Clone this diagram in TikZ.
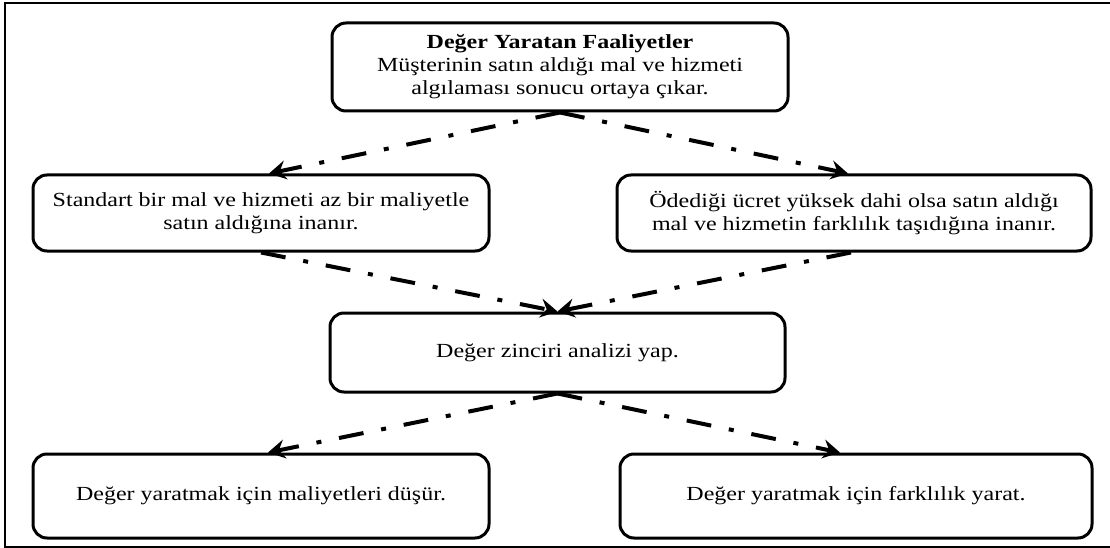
\documentclass[tikz,border=0pt]{standalone}
\usepackage{fontspec}
\setmainfont{Liberation Serif}[FakeStretch=1.2]
\usetikzlibrary{arrows.meta}
\tikzset{
  box/.style={draw, line width=3pt, rounded corners=14pt, align=center,
    font=\fontsize{20}{23}\selectfont, inner sep=0pt},
  flow/.style={line width=4pt, dash pattern=on 25pt off 18pt on 5pt off 18pt,
    -{Stealth[length=17pt,width=19pt,inset=6pt]}},
}
\begin{document}
\begin{tikzpicture}[x=1pt,y=-1pt]
\useasboundingbox (0,0) rectangle (1110,548);
\draw[line width=2pt] (1112,3) -- (5,3) -- (5,547) -- (1112,547);

\node[box, minimum width=456pt, minimum height=88pt] (top) at (560,67)
  {\textbf{Değer Yaratan Faaliyetler}\\Müşterinin satın aldığı mal ve hizmeti\\algılaması sonucu ortaya çıkar.};
\node[box, minimum width=456pt, minimum height=76pt] (left) at (261,213)
  {Standart bir mal ve hizmeti az bir maliyetle\\satın aldığına inanır.};
\node[box, minimum width=474pt, minimum height=76pt] (right) at (854,213)
  {Ödediği ücret yüksek dahi olsa satın aldığı\\mal ve hizmetin farklılık taşıdığına inanır.};
\node[box, minimum width=455pt, minimum height=79pt] (mid) at (557.5,352.5)
  {Değer zinciri analizi yap.};
\node[box, minimum width=456pt, minimum height=84pt] (bl) at (261,496)
  {Değer yaratmak için maliyetleri düşür.};
\node[box, minimum width=472pt, minimum height=84pt] (br) at (856,496)
  {Değer yaratmak için farklılık yarat.};

\draw[flow] (top.south) -- ([xshift=8pt]left.north);
\draw[flow] (top.south) -- ([xshift=-6pt]right.north);
\draw[flow] (left.south) -- (mid.north);
\draw[flow] ([xshift=-3pt]right.south) -- (mid.north);
\draw[flow] (mid.south) -- ([xshift=7pt]bl.north);
\draw[flow] (mid.south) -- ([xshift=-16pt]br.north);
\end{tikzpicture}
\end{document}
